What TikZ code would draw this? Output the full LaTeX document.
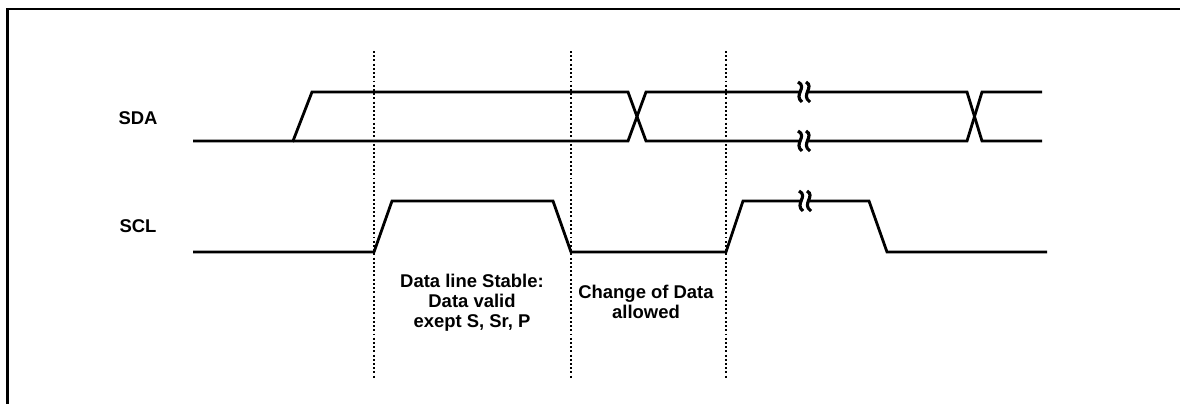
\documentclass[tikz,border=0pt]{standalone}
\usepackage{fontspec}
\newfontfamily\arialbf[BoldFont={Liberation Sans Bold}]{Liberation Sans}
\usepackage{tikz}

\tikzset{
  sig/.style={line width=1.6pt, line join=miter},
  guide/.style={line width=0.9pt, dash pattern=on 1.1pt off 1.3pt},
  lbl/.style={font=\arialbf\bfseries\fontsize{10.5pt}{11.3pt}\selectfont, align=center, inner sep=0pt}
}
% break mark on a signal line
\newcommand{\sigbreak}[2]{%
  \fill[white] (#1-3,#2-3) rectangle (#1+3,#2+3);
  \draw[line width=1.8pt] (#1-6,#2-10) .. controls (#1+4,#2-5) and (#1-11,#2+3) .. (#1-2,#2+10);
  \draw[line width=1.8pt] (#1+2,#2-10) .. controls (#1+11,#2-5) and (#1-4,#2+3) .. (#1+6,#2+10);
}

\begin{document}
\begin{tikzpicture}[x=0.02cm,y=-0.02cm]
\useasboundingbox (0,0) rectangle (1180,403);
\draw[line width=1.5pt] (7.5,410) -- (7.5,9) -- (1190,9);
% guide lines
\foreach \gx in {374,571,726}
  \draw[guide] (\gx,51) -- (\gx,378);
% SDA
\draw[sig] (193,141)--(293,141)--(312,92)--(628,92)--(646,141)--(967,141)--(982,92)--(1042,92);
\draw[sig] (293,141)--(628,141)--(646,92)--(967,92)--(982,141)--(1042,141);
% SCL
\draw[sig] (193,252)--(374,252)--(392,201)--(553,201)--(571,252)--(726,252)--(743,201)--(869,201)--(887,252)--(1047,252);
\sigbreak{804}{92}
\sigbreak{804}{141}
\sigbreak{805}{201}
% labels
\node[lbl] (sda) at (138,118) {SDA};
\node[lbl] (scl) at (138,226) {SCL};
\node[lbl] (stable) at (472,303) {Data line Stable:\\Data valid\\exept S, Sr, P};
\node[lbl] (change) at (646,302) {Change of Data\\allowed};
\end{tikzpicture}
\end{document}
